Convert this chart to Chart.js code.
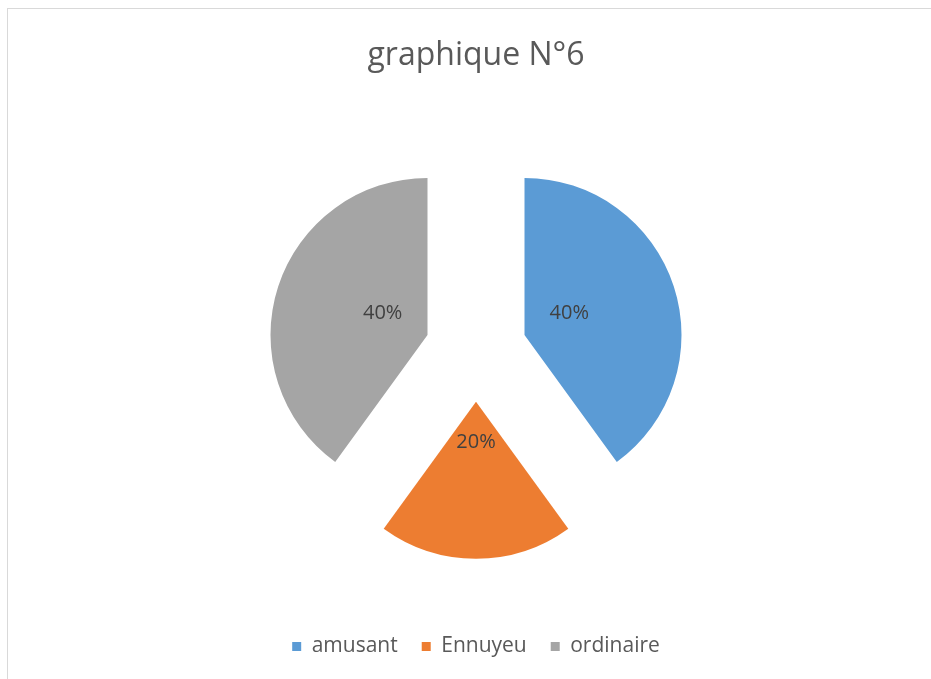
<!DOCTYPE html>
<html lang="fr">
<head>
  <meta charset="UTF-8">
  <title>graphique N°6</title>
  <script src="https://cdn.jsdelivr.net/npm/chart.js"></script>
  <style>
    html, body { margin: 0; padding: 0; background: #fff; overflow: hidden; }
    .frame {
      position: absolute; left: 7px; top: 8px;
      width: 960px; height: 720px;
      border: 1px solid #d9d9d9;
    }
    .wrap { position: absolute; left: 0; top: 0; width: 931px; height: 679px; }
  </style>
</head>
<body>
  <div class="frame"></div>
  <div class="wrap"><canvas id="pie" width="931" height="679"></canvas></div>
  <script>
    const categories = ['amusant', 'Ennuyeu', 'ordinaire'];
    const shares = [40, 20, 40];
    const sliceColors = ['#5B9BD5', '#ED7D31', '#A5A5A5'];
    const titleText = 'graphique N°6';

    const FONT = "'Open Sans', 'Noto Sans', Arial, sans-serif";
    const EXPLODE = 51; // px each slice is pulled out along its bisector

    // chart.js shrinks the slice angle when using big offsets, so push the
    // slices out ourselves by translating each arc before it draws
    const explode = {
      id: 'explode',
      afterDatasetsUpdate(chart) {
        chart.getDatasetMeta(0).data.forEach(arc => {
          if (arc._wrapped) return;
          const orig = arc.draw;
          arc.draw = function (ctx, area) {
            const mid = (this.startAngle + this.endAngle) / 2;
            ctx.save();
            ctx.translate(Math.cos(mid) * EXPLODE, Math.sin(mid) * EXPLODE);
            orig.call(this, ctx, area);
            ctx.restore();
          };
          arc._wrapped = true;
        });
      }
    };

    // percent labels inside each slice
    const sliceLabels = {
      id: 'sliceLabels',
      afterDatasetsDraw(chart) {
        const ctx = chart.ctx;
        const meta = chart.getDatasetMeta(0);
        ctx.save();
        ctx.font = '20px ' + FONT;
        ctx.fillStyle = '#404040';
        ctx.textAlign = 'center';
        ctx.textBaseline = 'middle';
        meta.data.forEach((arc, i) => {
          const p = arc.getProps(['x', 'y', 'startAngle', 'endAngle', 'outerRadius'], true);
          const mid = (p.startAngle + p.endAngle) / 2;
          const d = EXPLODE + p.outerRadius * 0.3;
          ctx.fillText(shares[i] + '%', p.x + Math.cos(mid) * d, p.y + Math.sin(mid) * d - 7);
        });
        ctx.restore();
      }
    };

    new Chart(document.getElementById('pie').getContext('2d'), {
      type: 'pie',
      data: {
        labels: categories,
        datasets: [{
          data: shares,
          backgroundColor: sliceColors,
          borderWidth: 0
        }]
      },
      options: {
        responsive: false,
        animation: false,
        radius: 157,
        layout: { padding: { left: 21, top: 2, bottom: 12 } },
        plugins: {
          title: {
            display: true,
            text: titleText,
            color: '#595959',
            font: { family: FONT, size: 32, weight: 'normal' },
            padding: { top: 35, bottom: 14 }
          },
          legend: {
            position: 'bottom',
            labels: {
              color: '#595959',
              font: { family: FONT, size: 21 },
              boxWidth: 9,
              boxHeight: 9,
              padding: 24
            }
          },
          tooltip: { enabled: false }
        }
      },
      plugins: [explode, sliceLabels]
    });
  </script>
</body>
</html>
